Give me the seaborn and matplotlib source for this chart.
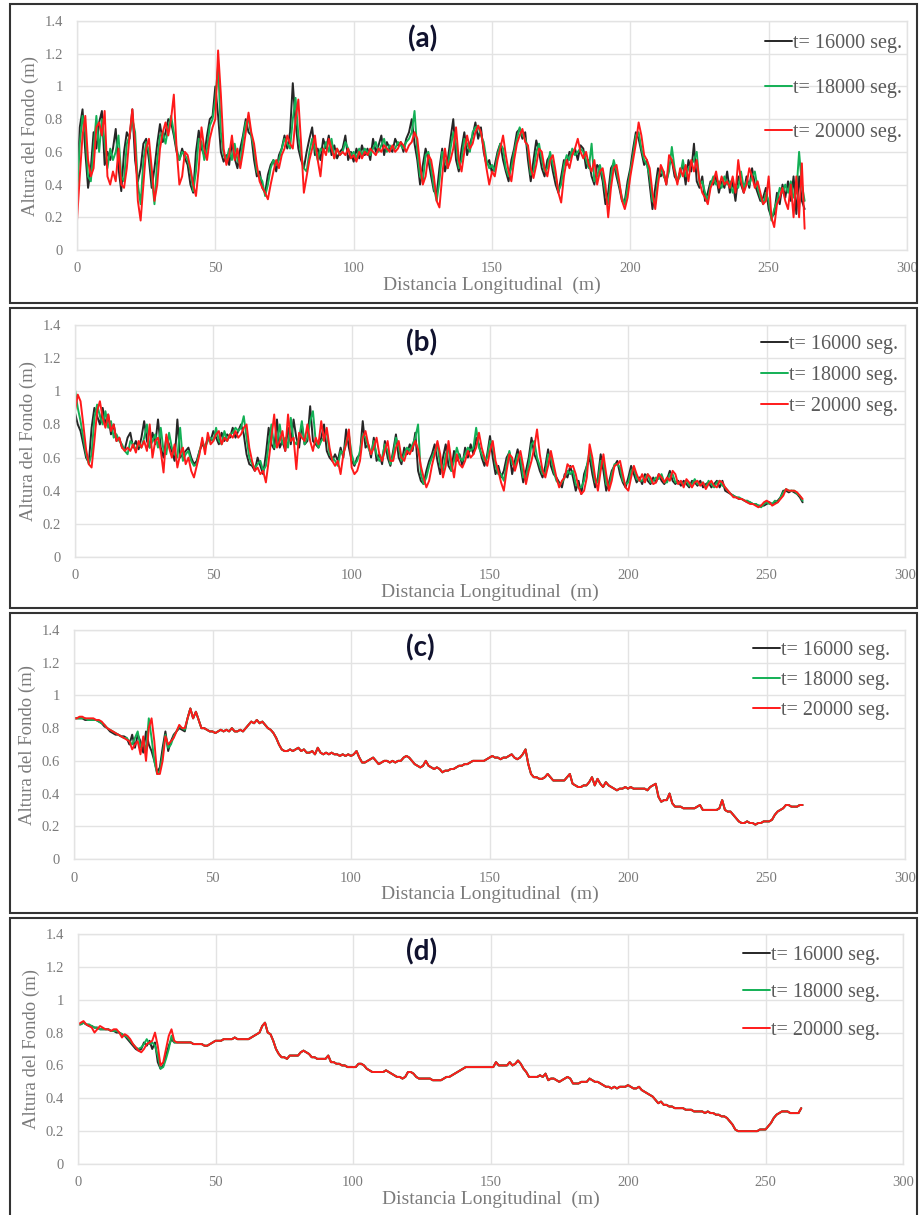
import numpy as np
import pandas as pd
import seaborn as sns
import matplotlib.pyplot as plt
from matplotlib.patches import Rectangle

# distancia longitudinal muestreada cada 1 m (0 .. 263 m)
dist = np.arange(0, 264)
labels = ["t= 16000 seg.", "t= 18000 seg.", "t= 20000 seg."]
colors = ["#262626", "#13b055", "#ff1a1a"]

# ---- panel (a)
a16 = [0.40, 0.75, 0.86, 0.60, 0.38, 0.50, 0.72, 0.62, 0.78, 0.85,
       0.52, 0.60, 0.55, 0.62, 0.74, 0.50, 0.36, 0.60, 0.72, 0.68,
       0.86, 0.55, 0.42, 0.50, 0.65, 0.68, 0.55, 0.38, 0.50, 0.65,
       0.77, 0.66, 0.72, 0.80, 0.78, 0.70, 0.60, 0.55, 0.62, 0.56,
       0.52, 0.40, 0.35, 0.60, 0.73, 0.62, 0.58, 0.70, 0.80, 0.82,
       1.00, 0.82, 0.60, 0.54, 0.58, 0.52, 0.66, 0.56, 0.50, 0.62,
       0.70, 0.80, 0.72, 0.70, 0.55, 0.45, 0.48, 0.38, 0.35, 0.46,
       0.52, 0.55, 0.48, 0.58, 0.62, 0.70, 0.62, 0.72, 1.02, 0.78,
       0.62, 0.55, 0.50, 0.60, 0.68, 0.75, 0.58, 0.62, 0.55, 0.68,
       0.62, 0.70, 0.58, 0.64, 0.56, 0.60, 0.62, 0.70, 0.55, 0.60,
       0.54, 0.62, 0.56, 0.64, 0.58, 0.62, 0.55, 0.68, 0.60, 0.64,
       0.70, 0.58, 0.66, 0.62, 0.60, 0.68, 0.64, 0.66, 0.60, 0.68,
       0.72, 0.80, 0.65, 0.55, 0.40, 0.52, 0.62, 0.55, 0.45, 0.36,
       0.34, 0.50, 0.62, 0.48, 0.55, 0.68, 0.80, 0.55, 0.48, 0.62,
       0.72, 0.58, 0.65, 0.70, 0.78, 0.68, 0.75, 0.60, 0.52, 0.55,
       0.47, 0.52, 0.60, 0.65, 0.55, 0.48, 0.42, 0.55, 0.62, 0.72,
       0.74, 0.68, 0.72, 0.55, 0.42, 0.55, 0.67, 0.60, 0.50, 0.45,
       0.55, 0.58, 0.48, 0.40, 0.35, 0.45, 0.55, 0.52, 0.60, 0.58,
       0.62, 0.55, 0.64, 0.62, 0.50, 0.55, 0.45, 0.40, 0.52, 0.50,
       0.42, 0.28, 0.35, 0.50, 0.53, 0.45, 0.38, 0.30, 0.30, 0.42,
       0.50, 0.62, 0.72, 0.68, 0.60, 0.52, 0.55, 0.40, 0.25, 0.38,
       0.50, 0.45, 0.48, 0.40, 0.52, 0.55, 0.45, 0.42, 0.48, 0.52,
       0.40, 0.55, 0.48, 0.65, 0.42, 0.38, 0.45, 0.30, 0.35, 0.42,
       0.40, 0.45, 0.35, 0.42, 0.38, 0.48, 0.35, 0.42, 0.30, 0.45,
       0.40, 0.35, 0.45, 0.38, 0.50, 0.40, 0.35, 0.30, 0.32, 0.38,
       0.25, 0.20, 0.22, 0.35, 0.28, 0.40, 0.32, 0.42, 0.30, 0.45,
       0.22, 0.45, 0.30, 0.25]
a18 = [0.30, 0.65, 0.82, 0.72, 0.45, 0.42, 0.62, 0.82, 0.60, 0.80,
       0.66, 0.50, 0.62, 0.55, 0.60, 0.70, 0.45, 0.42, 0.65, 0.70,
       0.80, 0.72, 0.40, 0.28, 0.55, 0.66, 0.60, 0.45, 0.28, 0.55,
       0.70, 0.72, 0.65, 0.75, 0.82, 0.72, 0.62, 0.55, 0.60, 0.58,
       0.55, 0.48, 0.36, 0.48, 0.68, 0.66, 0.55, 0.62, 0.76, 0.80,
       0.92, 1.13, 0.72, 0.58, 0.55, 0.62, 0.55, 0.65, 0.55, 0.52,
       0.68, 0.78, 0.80, 0.70, 0.62, 0.48, 0.45, 0.42, 0.33, 0.40,
       0.50, 0.55, 0.52, 0.55, 0.62, 0.68, 0.65, 0.62, 0.80, 0.93,
       0.70, 0.58, 0.50, 0.48, 0.60, 0.68, 0.62, 0.55, 0.62, 0.60,
       0.66, 0.60, 0.68, 0.56, 0.62, 0.58, 0.60, 0.66, 0.62, 0.58,
       0.60, 0.56, 0.62, 0.58, 0.62, 0.60, 0.58, 0.62, 0.66, 0.60,
       0.64, 0.68, 0.60, 0.64, 0.62, 0.62, 0.66, 0.64, 0.62, 0.66,
       0.68, 0.72, 0.85, 0.60, 0.45, 0.42, 0.58, 0.60, 0.50, 0.38,
       0.30, 0.42, 0.60, 0.55, 0.50, 0.62, 0.72, 0.65, 0.50, 0.55,
       0.68, 0.65, 0.60, 0.72, 0.75, 0.76, 0.70, 0.66, 0.55, 0.50,
       0.52, 0.48, 0.58, 0.65, 0.62, 0.50, 0.45, 0.50, 0.60, 0.68,
       0.75, 0.70, 0.68, 0.62, 0.46, 0.48, 0.60, 0.65, 0.55, 0.48,
       0.50, 0.60, 0.52, 0.45, 0.36, 0.40, 0.52, 0.58, 0.55, 0.62,
       0.58, 0.60, 0.62, 0.60, 0.55, 0.50, 0.65, 0.42, 0.45, 0.52,
       0.45, 0.35, 0.28, 0.45, 0.55, 0.48, 0.40, 0.32, 0.28, 0.38,
       0.48, 0.58, 0.70, 0.72, 0.62, 0.55, 0.52, 0.45, 0.30, 0.28,
       0.45, 0.50, 0.45, 0.42, 0.48, 0.63, 0.50, 0.42, 0.45, 0.55,
       0.45, 0.50, 0.52, 0.55, 0.60, 0.40, 0.42, 0.35, 0.30, 0.40,
       0.45, 0.40, 0.42, 0.38, 0.45, 0.40, 0.42, 0.35, 0.40, 0.38,
       0.48, 0.38, 0.42, 0.40, 0.45, 0.48, 0.38, 0.32, 0.28, 0.35,
       0.30, 0.18, 0.25, 0.30, 0.38, 0.35, 0.40, 0.35, 0.42, 0.32,
       0.35, 0.60, 0.40, 0.30]
a20 = [0.18, 0.45, 0.70, 0.82, 0.55, 0.45, 0.50, 0.75, 0.78, 0.70,
       0.85, 0.45, 0.40, 0.48, 0.42, 0.62, 0.40, 0.38, 0.50, 0.70,
       0.86, 0.65, 0.30, 0.18, 0.40, 0.62, 0.68, 0.50, 0.30, 0.40,
       0.62, 0.72, 0.78, 0.70, 0.80, 0.95, 0.62, 0.40, 0.45, 0.60,
       0.58, 0.50, 0.40, 0.33, 0.50, 0.75, 0.62, 0.55, 0.68, 0.75,
       0.80, 1.22, 0.95, 0.62, 0.52, 0.58, 0.70, 0.55, 0.62, 0.50,
       0.60, 0.72, 0.84, 0.72, 0.65, 0.52, 0.42, 0.38, 0.35, 0.31,
       0.40, 0.48, 0.55, 0.50, 0.58, 0.62, 0.70, 0.65, 0.62, 0.80,
       0.92, 0.65, 0.35, 0.45, 0.55, 0.62, 0.70, 0.55, 0.45, 0.62,
       0.58, 0.68, 0.62, 0.56, 0.62, 0.58, 0.60, 0.58, 0.62, 0.56,
       0.58, 0.54, 0.60, 0.56, 0.60, 0.58, 0.62, 0.60, 0.58, 0.62,
       0.60, 0.64, 0.62, 0.60, 0.64, 0.60, 0.62, 0.66, 0.64, 0.60,
       0.64, 0.66, 0.72, 0.68, 0.52, 0.40, 0.45, 0.58, 0.55, 0.45,
       0.30, 0.26, 0.45, 0.62, 0.50, 0.55, 0.62, 0.75, 0.55, 0.48,
       0.60, 0.70, 0.62, 0.65, 0.72, 0.76, 0.72, 0.62, 0.50, 0.40,
       0.48, 0.45, 0.55, 0.62, 0.70, 0.58, 0.48, 0.42, 0.55, 0.65,
       0.70, 0.74, 0.66, 0.64, 0.50, 0.44, 0.52, 0.62, 0.60, 0.50,
       0.45, 0.55, 0.58, 0.48, 0.35, 0.29, 0.45, 0.55, 0.50, 0.58,
       0.62, 0.68, 0.60, 0.56, 0.60, 0.52, 0.48, 0.55, 0.40, 0.48,
       0.50, 0.40, 0.20, 0.38, 0.50, 0.52, 0.42, 0.30, 0.25, 0.32,
       0.45, 0.55, 0.65, 0.78, 0.70, 0.58, 0.55, 0.50, 0.35, 0.25,
       0.40, 0.52, 0.48, 0.40, 0.58, 0.55, 0.48, 0.40, 0.50, 0.45,
       0.52, 0.42, 0.55, 0.48, 0.55, 0.42, 0.35, 0.32, 0.28, 0.38,
       0.42, 0.48, 0.38, 0.45, 0.40, 0.42, 0.38, 0.45, 0.35, 0.55,
       0.42, 0.35, 0.40, 0.50, 0.45, 0.38, 0.42, 0.35, 0.28, 0.30,
       0.45, 0.20, 0.14, 0.28, 0.32, 0.38, 0.30, 0.25, 0.40, 0.20,
       0.45, 0.20, 0.53, 0.13]

# ---- panel (b)
b16 = [0.87, 0.80, 0.76, 0.68, 0.60, 0.57, 0.78, 0.90, 0.85, 0.80,
       0.90, 0.80, 0.86, 0.74, 0.80, 0.70, 0.72, 0.66, 0.65, 0.72,
       0.75, 0.66, 0.70, 0.65, 0.72, 0.82, 0.70, 0.66, 0.75, 0.68,
       0.83, 0.66, 0.60, 0.72, 0.68, 0.64, 0.58, 0.83, 0.60, 0.62,
       0.64, 0.66, 0.60, 0.56, 0.58, 0.64, 0.68, 0.66, 0.72, 0.70,
       0.76, 0.72, 0.68, 0.75, 0.70, 0.74, 0.72, 0.78, 0.72, 0.76,
       0.80, 0.74, 0.62, 0.56, 0.55, 0.52, 0.60, 0.55, 0.50, 0.62,
       0.78, 0.68, 0.65, 0.83, 0.66, 0.70, 0.64, 0.78, 0.68, 0.83,
       0.72, 0.66, 0.80, 0.68, 0.70, 0.91, 0.70, 0.68, 0.66, 0.72,
       0.80, 0.64, 0.60, 0.58, 0.62, 0.58, 0.66, 0.60, 0.77, 0.66,
       0.58, 0.55, 0.60, 0.62, 0.82, 0.66, 0.68, 0.60, 0.72, 0.58,
       0.62, 0.56, 0.70, 0.60, 0.55, 0.64, 0.74, 0.60, 0.56, 0.66,
       0.62, 0.68, 0.64, 0.75, 0.52, 0.46, 0.44, 0.52, 0.58, 0.62,
       0.68, 0.58, 0.50, 0.60, 0.68, 0.55, 0.52, 0.64, 0.58, 0.62,
       0.55, 0.66, 0.60, 0.68, 0.62, 0.72, 0.68, 0.60, 0.55, 0.62,
       0.73, 0.60, 0.50, 0.55, 0.48, 0.52, 0.60, 0.63, 0.50, 0.58,
       0.65, 0.55, 0.45, 0.52, 0.60, 0.72, 0.62, 0.58, 0.52, 0.48,
       0.55, 0.65, 0.55, 0.50, 0.48, 0.45, 0.42, 0.50, 0.48, 0.55,
       0.48, 0.40, 0.46, 0.38, 0.50, 0.55, 0.60, 0.50, 0.42, 0.48,
       0.62, 0.52, 0.40, 0.45, 0.52, 0.55, 0.58, 0.50, 0.45, 0.42,
       0.48, 0.55, 0.50, 0.45, 0.48, 0.44, 0.50, 0.46, 0.44, 0.48,
       0.45, 0.50, 0.46, 0.44, 0.47, 0.52, 0.46, 0.44, 0.46, 0.43,
       0.46, 0.44, 0.42, 0.46, 0.45, 0.43, 0.46, 0.42, 0.44, 0.45,
       0.42, 0.44, 0.46, 0.42, 0.46, 0.40, 0.39, 0.38, 0.37, 0.36,
       0.35, 0.35, 0.34, 0.33, 0.33, 0.32, 0.32, 0.31, 0.31, 0.31,
       0.32, 0.33, 0.32, 0.33, 0.34, 0.36, 0.40, 0.40, 0.39, 0.40,
       0.39, 0.38, 0.36, 0.33]
b18 = [1.01, 0.90, 0.82, 0.72, 0.62, 0.56, 0.62, 0.84, 0.92, 0.85,
       0.80, 0.88, 0.78, 0.82, 0.72, 0.74, 0.70, 0.68, 0.64, 0.62,
       0.70, 0.68, 0.65, 0.68, 0.66, 0.72, 0.80, 0.66, 0.70, 0.74,
       0.66, 0.78, 0.64, 0.62, 0.75, 0.66, 0.62, 0.60, 0.78, 0.58,
       0.62, 0.64, 0.58, 0.55, 0.56, 0.64, 0.70, 0.66, 0.70, 0.72,
       0.70, 0.78, 0.70, 0.68, 0.76, 0.70, 0.74, 0.75, 0.78, 0.76,
       0.78, 0.85, 0.72, 0.60, 0.56, 0.54, 0.56, 0.58, 0.52, 0.55,
       0.68, 0.80, 0.66, 0.68, 0.80, 0.68, 0.72, 0.66, 0.84, 0.70,
       0.68, 0.72, 0.82, 0.68, 0.72, 0.82, 0.88, 0.70, 0.66, 0.70,
       0.72, 0.76, 0.62, 0.60, 0.58, 0.55, 0.64, 0.62, 0.70, 0.74,
       0.62, 0.56, 0.58, 0.64, 0.74, 0.72, 0.66, 0.62, 0.70, 0.62,
       0.58, 0.60, 0.68, 0.64, 0.56, 0.62, 0.72, 0.66, 0.58, 0.62,
       0.66, 0.64, 0.68, 0.72, 0.80, 0.50, 0.44, 0.48, 0.55, 0.60,
       0.64, 0.68, 0.55, 0.52, 0.62, 0.66, 0.52, 0.58, 0.66, 0.60,
       0.58, 0.62, 0.66, 0.64, 0.66, 0.78, 0.66, 0.62, 0.58, 0.60,
       0.70, 0.68, 0.55, 0.50, 0.50, 0.46, 0.56, 0.64, 0.56, 0.55,
       0.62, 0.60, 0.48, 0.48, 0.56, 0.68, 0.70, 0.60, 0.55, 0.50,
       0.50, 0.62, 0.60, 0.52, 0.46, 0.44, 0.45, 0.48, 0.52, 0.50,
       0.52, 0.44, 0.42, 0.42, 0.46, 0.55, 0.64, 0.55, 0.45, 0.45,
       0.58, 0.58, 0.44, 0.42, 0.50, 0.56, 0.56, 0.54, 0.46, 0.44,
       0.45, 0.52, 0.54, 0.47, 0.46, 0.46, 0.48, 0.50, 0.45, 0.46,
       0.48, 0.47, 0.50, 0.45, 0.45, 0.50, 0.50, 0.45, 0.45, 0.45,
       0.44, 0.46, 0.43, 0.44, 0.47, 0.44, 0.44, 0.45, 0.42, 0.46,
       0.44, 0.42, 0.45, 0.46, 0.43, 0.42, 0.40, 0.38, 0.37, 0.36,
       0.36, 0.35, 0.34, 0.34, 0.33, 0.32, 0.32, 0.31, 0.30, 0.32,
       0.33, 0.32, 0.32, 0.34, 0.33, 0.36, 0.39, 0.41, 0.40, 0.40,
       0.40, 0.38, 0.37, 0.34]
b20 = [0.88, 0.98, 0.94, 0.80, 0.65, 0.56, 0.54, 0.70, 0.88, 0.94,
       0.84, 0.78, 0.86, 0.76, 0.80, 0.70, 0.72, 0.66, 0.64, 0.66,
       0.64, 0.68, 0.63, 0.70, 0.66, 0.70, 0.64, 0.80, 0.60, 0.70,
       0.72, 0.64, 0.51, 0.74, 0.66, 0.60, 0.68, 0.54, 0.62, 0.66,
       0.56, 0.60, 0.52, 0.48, 0.55, 0.62, 0.72, 0.62, 0.75, 0.68,
       0.70, 0.74, 0.76, 0.68, 0.72, 0.70, 0.74, 0.72, 0.76, 0.72,
       0.74, 0.78, 0.80, 0.66, 0.58, 0.52, 0.54, 0.50, 0.52, 0.45,
       0.58, 0.72, 0.86, 0.66, 0.70, 0.76, 0.64, 0.86, 0.70, 0.72,
       0.53, 0.75, 0.72, 0.70, 0.80, 0.70, 0.64, 0.72, 0.68, 0.82,
       0.70, 0.78, 0.66, 0.58, 0.55, 0.58, 0.50, 0.62, 0.68, 0.77,
       0.54, 0.50, 0.52, 0.58, 0.72, 0.76, 0.68, 0.62, 0.66, 0.72,
       0.62, 0.58, 0.64, 0.70, 0.58, 0.58, 0.66, 0.70, 0.60, 0.58,
       0.64, 0.62, 0.66, 0.70, 0.65, 0.55, 0.48, 0.42, 0.46, 0.55,
       0.62, 0.70, 0.62, 0.48, 0.55, 0.70, 0.58, 0.48, 0.62, 0.56,
       0.54, 0.58, 0.64, 0.60, 0.62, 0.66, 0.75, 0.66, 0.60, 0.55,
       0.64, 0.70, 0.58, 0.52, 0.45, 0.40, 0.52, 0.62, 0.60, 0.52,
       0.58, 0.64, 0.55, 0.44, 0.52, 0.58, 0.66, 0.77, 0.62, 0.52,
       0.48, 0.55, 0.64, 0.56, 0.48, 0.42, 0.46, 0.48, 0.56, 0.54,
       0.55, 0.50, 0.42, 0.38, 0.40, 0.48, 0.68, 0.60, 0.48, 0.40,
       0.52, 0.62, 0.50, 0.40, 0.46, 0.55, 0.56, 0.58, 0.50, 0.42,
       0.40, 0.48, 0.55, 0.50, 0.46, 0.50, 0.45, 0.50, 0.48, 0.44,
       0.45, 0.50, 0.48, 0.45, 0.48, 0.46, 0.52, 0.50, 0.44, 0.46,
       0.42, 0.47, 0.45, 0.42, 0.45, 0.46, 0.43, 0.45, 0.41, 0.44,
       0.46, 0.43, 0.42, 0.46, 0.45, 0.42, 0.40, 0.38, 0.36, 0.36,
       0.35, 0.35, 0.34, 0.33, 0.32, 0.32, 0.31, 0.30, 0.31, 0.33,
       0.34, 0.33, 0.31, 0.32, 0.33, 0.35, 0.37, 0.41, 0.40, 0.40,
       0.40, 0.39, 0.37, 0.35]

# ---- panel (c): tramo inicial 0-40 m por serie, resto 41-263 m coincidente
c16_head = [0.86, 0.86, 0.86, 0.86, 0.85, 0.85, 0.85, 0.85, 0.85, 0.84,
            0.83, 0.81, 0.80, 0.78, 0.77, 0.76, 0.76, 0.75, 0.75, 0.74,
            0.70, 0.76, 0.68, 0.76, 0.72, 0.65, 0.78, 0.70, 0.66, 0.60,
            0.53, 0.56, 0.68, 0.78, 0.66, 0.72, 0.76, 0.78, 0.80, 0.79,
            0.78]
c18_head = [0.86, 0.86, 0.86, 0.86, 0.86, 0.85, 0.85, 0.85, 0.85, 0.84,
            0.83, 0.82, 0.80, 0.79, 0.78, 0.77, 0.76, 0.75, 0.74, 0.74,
            0.72, 0.70, 0.74, 0.78, 0.68, 0.72, 0.66, 0.86, 0.74, 0.60,
            0.52, 0.54, 0.64, 0.76, 0.68, 0.70, 0.75, 0.78, 0.81, 0.80,
            0.79]
c20_head = [0.86, 0.86, 0.87, 0.87, 0.86, 0.86, 0.86, 0.86, 0.85, 0.85,
            0.84, 0.82, 0.80, 0.79, 0.78, 0.77, 0.76, 0.75, 0.74, 0.73,
            0.72, 0.67, 0.70, 0.72, 0.64, 0.75, 0.60, 0.80, 0.86, 0.72,
            0.52, 0.52, 0.60, 0.75, 0.70, 0.72, 0.74, 0.78, 0.82, 0.80,
            0.80]
c_tail = [0.86, 0.92, 0.86, 0.90, 0.85, 0.80, 0.80, 0.79, 0.78,
          0.78, 0.77, 0.78, 0.79, 0.78, 0.79, 0.78, 0.80, 0.78, 0.78,
          0.79, 0.78, 0.80, 0.82, 0.84, 0.83, 0.85, 0.83, 0.84, 0.82,
          0.80, 0.79, 0.77, 0.74, 0.70, 0.67, 0.66, 0.66, 0.67, 0.66,
          0.67, 0.68, 0.66, 0.67, 0.65, 0.65, 0.66, 0.64, 0.68, 0.65,
          0.64, 0.65, 0.64, 0.65, 0.64, 0.64, 0.63, 0.64, 0.63, 0.64,
          0.63, 0.64, 0.66, 0.62, 0.59, 0.59, 0.60, 0.61, 0.62, 0.60,
          0.58, 0.59, 0.60, 0.60, 0.59, 0.60, 0.59, 0.60, 0.60, 0.62,
          0.63, 0.62, 0.60, 0.58, 0.57, 0.56, 0.57, 0.60, 0.57, 0.56,
          0.55, 0.56, 0.55, 0.53, 0.54, 0.54, 0.55, 0.55, 0.56, 0.57,
          0.57, 0.58, 0.58, 0.59, 0.60, 0.60, 0.60, 0.60, 0.60, 0.61,
          0.62, 0.63, 0.62, 0.62, 0.61, 0.62, 0.62, 0.63, 0.64, 0.62,
          0.61, 0.62, 0.64, 0.67, 0.58, 0.52, 0.50, 0.50, 0.49, 0.49,
          0.50, 0.52, 0.50, 0.48, 0.48, 0.48, 0.48, 0.48, 0.50, 0.52,
          0.46, 0.45, 0.44, 0.44, 0.45, 0.45, 0.47, 0.50, 0.45, 0.49,
          0.46, 0.44, 0.47, 0.45, 0.44, 0.43, 0.42, 0.43, 0.43, 0.44,
          0.43, 0.44, 0.43, 0.43, 0.43, 0.43, 0.43, 0.42, 0.44, 0.45,
          0.46, 0.38, 0.35, 0.36, 0.36, 0.40, 0.34, 0.32, 0.32, 0.32,
          0.31, 0.31, 0.31, 0.31, 0.31, 0.32, 0.33, 0.30, 0.30, 0.30,
          0.30, 0.30, 0.30, 0.31, 0.36, 0.30, 0.29, 0.29, 0.27, 0.25,
          0.23, 0.22, 0.22, 0.23, 0.22, 0.22, 0.21, 0.22, 0.22, 0.23,
          0.23, 0.23, 0.24, 0.27, 0.29, 0.30, 0.31, 0.33, 0.33, 0.32,
          0.32, 0.32, 0.33, 0.33]

# ---- panel (d): tramo inicial 0-40 m por serie, resto 41-263 m coincidente
d16_head = [0.85, 0.85, 0.86, 0.85, 0.84, 0.84, 0.83, 0.83, 0.82, 0.82,
            0.82, 0.82, 0.81, 0.81, 0.80, 0.80, 0.79, 0.78, 0.76, 0.74,
            0.72, 0.70, 0.69, 0.70, 0.74, 0.72, 0.75, 0.70, 0.74, 0.62,
            0.58, 0.60, 0.66, 0.72, 0.76, 0.74, 0.74, 0.74, 0.74, 0.74,
            0.74]
d18_head = [0.85, 0.85, 0.86, 0.85, 0.85, 0.84, 0.83, 0.83, 0.82, 0.82,
            0.82, 0.82, 0.81, 0.81, 0.81, 0.80, 0.79, 0.78, 0.77, 0.75,
            0.73, 0.71, 0.70, 0.71, 0.73, 0.76, 0.73, 0.74, 0.72, 0.66,
            0.58, 0.59, 0.64, 0.70, 0.78, 0.74, 0.74, 0.74, 0.74, 0.74,
            0.74]
d20_head = [0.85, 0.86, 0.87, 0.85, 0.84, 0.83, 0.80, 0.82, 0.84, 0.83,
            0.82, 0.82, 0.81, 0.82, 0.82, 0.80, 0.77, 0.79, 0.78, 0.76,
            0.73, 0.71, 0.69, 0.68, 0.70, 0.73, 0.74, 0.75, 0.80, 0.72,
            0.60, 0.62, 0.70, 0.78, 0.82, 0.75, 0.74, 0.74, 0.74, 0.74,
            0.74]
d_tail = [0.74, 0.73, 0.73, 0.73, 0.73, 0.72, 0.72, 0.73, 0.74,
          0.75, 0.75, 0.75, 0.76, 0.76, 0.76, 0.76, 0.77, 0.76, 0.76,
          0.76, 0.76, 0.76, 0.77, 0.78, 0.79, 0.80, 0.84, 0.86, 0.80,
          0.79, 0.75, 0.70, 0.67, 0.65, 0.65, 0.64, 0.66, 0.66, 0.66,
          0.66, 0.68, 0.69, 0.68, 0.67, 0.65, 0.65, 0.64, 0.64, 0.64,
          0.64, 0.66, 0.62, 0.62, 0.61, 0.61, 0.60, 0.60, 0.59, 0.59,
          0.59, 0.59, 0.61, 0.61, 0.60, 0.58, 0.57, 0.56, 0.56, 0.56,
          0.56, 0.56, 0.57, 0.56, 0.55, 0.54, 0.53, 0.53, 0.52, 0.53,
          0.56, 0.56, 0.55, 0.53, 0.52, 0.52, 0.52, 0.52, 0.52, 0.51,
          0.51, 0.51, 0.51, 0.52, 0.53, 0.53, 0.54, 0.55, 0.56, 0.57,
          0.58, 0.59, 0.59, 0.59, 0.59, 0.59, 0.59, 0.59, 0.59, 0.59,
          0.59, 0.59, 0.62, 0.60, 0.60, 0.60, 0.60, 0.62, 0.60, 0.61,
          0.63, 0.61, 0.58, 0.56, 0.53, 0.53, 0.53, 0.53, 0.54, 0.53,
          0.55, 0.51, 0.52, 0.52, 0.51, 0.50, 0.51, 0.52, 0.53, 0.52,
          0.49, 0.49, 0.49, 0.50, 0.50, 0.50, 0.52, 0.51, 0.50, 0.50,
          0.49, 0.48, 0.47, 0.47, 0.46, 0.47, 0.46, 0.47, 0.47, 0.47,
          0.48, 0.47, 0.46, 0.46, 0.47, 0.45, 0.44, 0.43, 0.42, 0.41,
          0.39, 0.37, 0.38, 0.36, 0.36, 0.35, 0.35, 0.34, 0.34, 0.34,
          0.34, 0.33, 0.33, 0.33, 0.32, 0.32, 0.32, 0.32, 0.31, 0.32,
          0.31, 0.31, 0.30, 0.30, 0.29, 0.29, 0.28, 0.26, 0.24, 0.21,
          0.20, 0.20, 0.20, 0.20, 0.20, 0.20, 0.20, 0.20, 0.21, 0.21,
          0.21, 0.23, 0.25, 0.28, 0.30, 0.31, 0.32, 0.32, 0.32, 0.31,
          0.31, 0.31, 0.31, 0.34]

panels = {
    "(a)": [a16, a18, a20],
    "(b)": [b16, b18, b20],
    "(c)": [c16_head + c_tail, c18_head + c_tail, c20_head + c_tail],
    "(d)": [d16_head + d_tail, d18_head + d_tail, d20_head + d_tail],
}
for k, v in panels.items():
    for s in v:
        assert len(s) == len(dist), (k, len(s))

sns.set_theme(style="whitegrid")
plt.rcParams["font.family"] = ["Liberation Serif", "DejaVu Serif"]

fig = plt.figure(figsize=(9.19, 12.15), dpi=100)
W, H = 919, 1215

# axes rectangles in pixels: left, top, right, bottom
ax_px = [(77, 21, 907, 250), (75, 325, 905, 557), (74, 630, 905, 859), (78, 934, 903, 1164)]
box_px = [(10, 4, 917, 303), (10, 308, 917, 608), (10, 613, 917, 913), (10, 918, 917, 1225)]
leg_anchor = [(0.994, 0.942), (0.992, 0.958), (0.982, 0.954), (0.972, 0.950)]
leg_space = [1.25, 0.6, 0.55, 0.92]

grid_c = "#e3e3e3"
txt_c = "#7b7b7b"

for i, (name, series) in enumerate(panels.items()):
    l, t, r, b = ax_px[i]
    ax = fig.add_axes([l / W, 1 - b / H, (r - l) / W, (b - t) / H])
    df = pd.DataFrame({
        "Distancia": np.tile(dist, 3),
        "Altura": np.concatenate(series),
        "Serie": np.repeat(labels, len(dist)),
    })
    sns.lineplot(data=df, x="Distancia", y="Altura", hue="Serie", hue_order=labels,
                 palette=dict(zip(labels, colors)), linewidth=1.4, estimator=None,
                 legend=False, ax=ax)
    ax.set_xlim(0, 300)
    ax.set_ylim(0, 1.4)
    ax.set_xticks([0, 50, 100, 150, 200, 250, 300])
    ax.set_yticks([0, 0.2, 0.4, 0.6, 0.8, 1.0, 1.2, 1.4])
    ax.set_yticklabels([f"{v:g}" for v in [0, 0.2, 0.4, 0.6, 0.8, 1.0, 1.2, 1.4]])
    ax.grid(True, color=grid_c, linewidth=1.0)
    for sp in ax.spines.values():
        sp.set_color(grid_c)
        sp.set_linewidth(1.0)
    ax.set_facecolor("white")
    ax.tick_params(axis="both", length=0, labelsize=10.5, labelcolor=txt_c)
    ax.tick_params(axis="y", pad=10)
    ax.tick_params(axis="x", pad=9)
    ax.set_xlabel("Distancia Longitudinal  (m)", fontsize=14, color=txt_c, labelpad=1)
    ax.set_ylabel("Altura del Fondo (m)", fontsize=13.5, color=txt_c, labelpad=4)
    ax.text(0.417, 0.921, name, transform=ax.transAxes, ha="center", va="center",
            fontsize=20, fontweight="bold", color="#10122e", family=["Lato", "DejaVu Sans"])
    leg = ax.legend(ax.get_lines()[:3], labels, loc="upper right",
                    bbox_to_anchor=leg_anchor[i], frameon=False, fontsize=14.5,
                    handlelength=1.35, handletextpad=0.05, labelspacing=leg_space[i],
                    borderaxespad=0, borderpad=0)
    for txt in leg.get_texts():
        txt.set_color("#5a5a5a")

    bl, bt, br, bb = box_px[i]
    fig.patches.append(Rectangle((bl / W, 1 - bb / H), (br - bl) / W, (bb - bt) / H,
                                 transform=fig.transFigure, fill=False,
                                 edgecolor="#333333", linewidth=1.5))

fig.savefig("out.png", dpi=100, facecolor="white")
